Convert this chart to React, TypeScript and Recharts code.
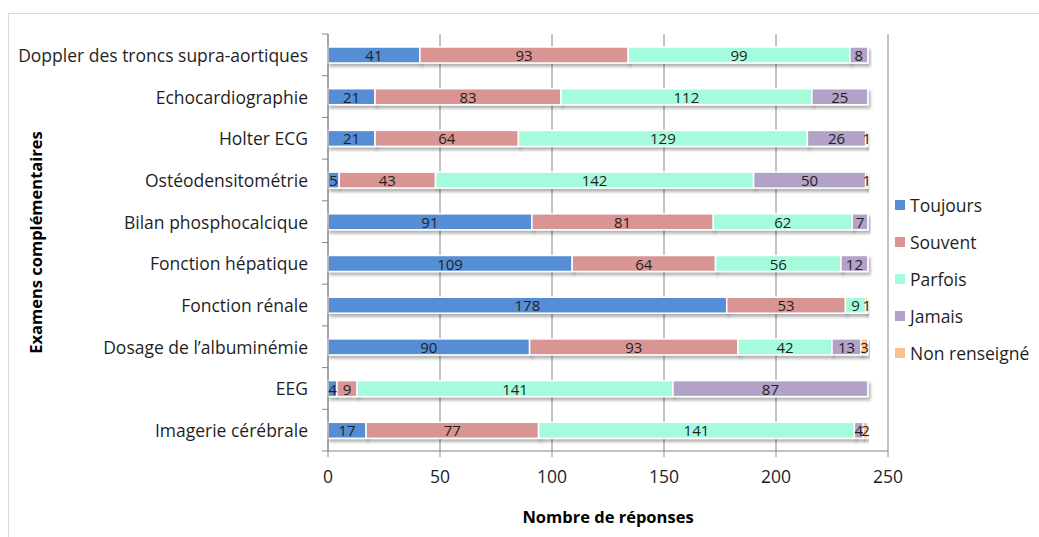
import { Bar, BarChart, CartesianGrid, LabelList, XAxis, YAxis } from "recharts";

const categories = [
  "Doppler des troncs supra-aortiques",
  "Echocardiographie",
  "Holter ECG",
  "Ostéodensitométrie",
  "Bilan phosphocalcique",
  "Fonction hépatique",
  "Fonction rénale",
  "Dosage de l’albuminémie",
  "EEG",
  "Imagerie cérébrale",
];

const toujours = [41, 21, 21, 5, 91, 109, 178, 90, 4, 17];
const souvent = [93, 83, 64, 43, 81, 64, 53, 93, 9, 77];
const parfois = [99, 112, 129, 142, 62, 56, 9, 42, 141, 141];
const jamais = [8, 25, 26, 50, 7, 12, 0, 13, 87, 4];
const nonRenseigne = [0, 0, 1, 1, 0, 0, 1, 3, 0, 2];

const xTicks = [0, 50, 100, 150, 200, 250];

const series = [
  { key: "toujours", name: "Toujours", color: "#558ed5" },
  { key: "souvent", name: "Souvent", color: "#d99594" },
  { key: "parfois", name: "Parfois", color: "#a5fcdc" },
  { key: "jamais", name: "Jamais", color: "#b3a2c7" },
  { key: "nr", name: "Non renseigné", color: "#fac090" },
];

const data = categories.map((name, i) => ({
  name,
  toujours: toujours[i],
  souvent: souvent[i],
  parfois: parfois[i],
  jamais: jamais[i],
  nr: nonRenseigne[i],
}));

const FONT = "'Open Sans', sans-serif";

function Segment(props: any) {
  const { x, y, width, height, fill } = props;
  if (!width || width <= 0) return null;
  return (
    <rect
      x={x}
      y={y}
      width={width}
      height={height}
      fill={fill}
      stroke="#fff"
      strokeWidth={1.5}
      filter="url(#barShadow)"
    />
  );
}

function ValueLabel(props: any) {
  const { x, y, width, height, value } = props;
  if (!value) return null;
  return (
    <text
      x={x + width / 2}
      y={y + height / 2}
      textAnchor="middle"
      dominantBaseline="central"
      fontFamily={FONT}
      fontSize={15}
      fill="#1f1f1f"
    >
      {value}
    </text>
  );
}

function CategoryTick(props: any) {
  const { x, y, payload, index } = props;
  const band = 417 / categories.length;
  const axisX = x + 8;
  return (
    <g>
      <text
        x={x - 12}
        y={y}
        textAnchor="end"
        dominantBaseline="central"
        fontFamily={FONT}
        fontSize={17.5}
        fill="#1f1f1f"
      >
        {payload.value}
      </text>
      <line x1={axisX - 6} x2={axisX} y1={y - band / 2} y2={y - band / 2} stroke="#868686" />
      {index === categories.length - 1 && (
        <line x1={axisX - 6} x2={axisX} y1={y + band / 2} y2={y + band / 2} stroke="#868686" />
      )}
    </g>
  );
}

export default function App() {
  return (
    <div
      style={{
        position: "absolute",
        left: 0,
        top: 0,
        width: 1039,
        height: 537,
        overflow: "hidden",
        background: "#fff",
        fontFamily: FONT,
      }}
    >
      <svg width={0} height={0} style={{ position: "absolute" }}>
        <defs>
          <filter id="barShadow" x="-20%" y="-40%" width="140%" height="200%">
            <feDropShadow dx={2} dy={3} stdDeviation={1.5} floodColor="#000" floodOpacity={0.3} />
          </filter>
        </defs>
      </svg>
      <div
        style={{
          position: "absolute",
          left: 8,
          top: 13,
          width: 1100,
          height: 600,
          border: "1px solid #d9d9d9",
        }}
      />
      <div style={{ position: "absolute", left: 0, top: 0 }}>
        <BarChart
          width={1039}
          height={537}
          data={data}
          layout="vertical"
          barSize={16}
          margin={{ top: 34, right: 151, bottom: 0, left: 0 }}
        >
          <CartesianGrid horizontal={false} stroke="#868686" strokeWidth={1} />
          <XAxis
            type="number"
            domain={[0, 250]}
            ticks={xTicks}
            height={86}
            axisLine={{ stroke: "#868686" }}
            tickLine={{ stroke: "#868686" }}
            tickSize={6}
            tick={{ fontFamily: FONT, fontSize: 17.5, fill: "#1f1f1f", dy: 12 }}
            label={{
              value: "Nombre de réponses",
              position: "insideBottom",
              offset: 14,
              style: { fontFamily: FONT, fontSize: 16.5, fontWeight: 700, fill: "#000" },
            }}
          />
          <YAxis
            type="category"
            dataKey="name"
            width={328}
            axisLine={{ stroke: "#868686" }}
            tickLine={false}
            tick={<CategoryTick />}
            interval={0}
            label={{
              content: (p: any) => {
                const vb = p.viewBox;
                const cx = vb.x + 35;
                const cy = vb.y + vb.height / 2;
                return (
                  <text
                    x={cx}
                    y={cy}
                    transform={`rotate(-90 ${cx} ${cy})`}
                    textAnchor="middle"
                    dominantBaseline="central"
                    fontFamily={FONT}
                    fontSize={16.5}
                    fontWeight={700}
                    fill="#000"
                  >
                    Examens complémentaires
                  </text>
                );
              },
            }}
          />
          {series.map((s) => (
            <Bar
              key={s.key}
              dataKey={s.key}
              name={s.name}
              stackId="a"
              fill={s.color}
              shape={<Segment />}
              isAnimationActive={false}
            >
              <LabelList dataKey={s.key} content={<ValueLabel />} />
            </Bar>
          ))}
        </BarChart>
      </div>
      <div style={{ position: "absolute", left: 895, top: 186 }}>
        {series.map((s) => (
          <div
            key={s.key}
            style={{ display: "flex", alignItems: "center", height: 37, fontSize: 17.5, color: "#1f1f1f" }}
          >
            <span
              style={{ display: "inline-block", width: 10, height: 10, background: s.color, marginRight: 5 }}
            />
            {s.name}
          </div>
        ))}
      </div>
    </div>
  );
}
